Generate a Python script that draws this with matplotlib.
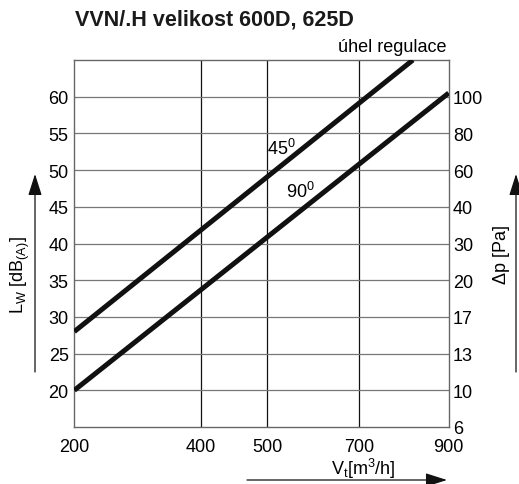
import numpy as np
import matplotlib
matplotlib.use("Agg")
import matplotlib.pyplot as plt
from matplotlib.patches import FancyArrowPatch

plt.rcParams['font.family'] = ['Liberation Sans', 'DejaVu Sans']
plt.rcParams['mathtext.fontset'] = 'custom'
plt.rcParams['mathtext.rm'] = 'Liberation Sans'
plt.rcParams['mathtext.it'] = 'Liberation Sans:italic'

# x axis of the nomogram (not a pure log scale)
v_ticks = [200, 400, 500, 700, 900]
v_pos = [0.0, 0.338, 0.515, 0.761, 1.0]

lw_ticks = [15, 20, 25, 30, 35, 40, 45, 50, 55, 60]
lw_labels = ['', '20', '25', '30', '35', '40', '45', '50', '55', '60']
dp_labels = ['6', '10', '13', '17', '20', '30', '40', '60', '80', '100']

# curves per damper angle
v_45 = [200, 820]
lw_45 = [28, 65]
v_90 = [200, 900]
lw_90 = [20, 60.5]

W, H = 519, 485
FS = 13


def fwd(x):
    return np.interp(x, v_ticks, v_pos)


def inv(p):
    return np.interp(p, v_pos, v_ticks)


fig = plt.figure(figsize=(W / 100, H / 100), dpi=100)
ax = fig.add_axes([74.3 / W, 1 - 428 / H, 374.4 / W, 367 / H])
ax.set_xscale('function', functions=(fwd, inv))
ax.set_xlim(200, 900)
ax.set_ylim(15, 65)

ax.set_xticks(v_ticks)
ax.set_xticklabels([str(v) for v in v_ticks])
ax.set_yticks(lw_ticks)
ax.set_yticklabels(lw_labels)
ax.tick_params(axis='both', length=0, labelsize=FS)
ax.tick_params(axis='x', pad=8)
ax.tick_params(axis='y', pad=4)
ax.xaxis.set_minor_locator(matplotlib.ticker.NullLocator())

for v in v_ticks[1:-1]:
    ax.axvline(v, color='#111111', lw=0.9, zorder=1)
for y in lw_ticks[1:]:
    ax.axhline(y, color='#777777', lw=0.9, zorder=1)
for s in ax.spines.values():
    s.set_color('#666666')
    s.set_linewidth(1.0)

ax.plot(v_45, lw_45, color='#111111', lw=3.6, solid_capstyle='butt', zorder=3)
ax.plot(v_90, lw_90, color='#111111', lw=3.6, solid_capstyle='butt', zorder=3)
ax.text(500, 53.0, r'45$^{\mathrm{0}}$', fontsize=FS, ha='left', va='center')
ax.text(542, 47.2, r'90$^{\mathrm{0}}$', fontsize=FS, ha='left', va='center')

ax2 = ax.twinx()
ax2.set_ylim(15, 65)
ax2.set_yticks(lw_ticks)
ax2.set_yticklabels(dp_labels)
ax2.tick_params(axis='y', length=0, labelsize=FS, pad=3)
for s in ax2.spines.values():
    s.set_visible(False)

fig.text(75 / W, 1 - 20 / H, 'VVN/.H velikost 600D, 625D', fontsize=15.5,
         fontweight='bold', ha='left', va='center', color='#1a1a1a')
fig.text(446 / W, 1 - 47 / H, 'úhel regulace', fontsize=FS,
         ha='right', va='center')

fig.text(20 / W, 1 - 275 / H, r'L$_{\mathrm{W}}$ [dB$_{\mathrm{(A)}}$]', fontsize=FS,
         rotation=90, ha='center', va='center')
fig.text(502 / W, 1 - 255 / H, 'Δp [Pa]', fontsize=FS,
         rotation=90, ha='center', va='center')
fig.text(363 / W, 1 - 469 / H, r'V$_{\mathrm{t}}$[m$^{\mathrm{3}}$/h]', fontsize=FS,
         ha='center', va='center')

arrow = dict(arrowstyle='-|>,head_length=1.1,head_width=0.35', color='#111111',
             lw=0.9, mutation_scale=12, shrinkA=0, shrinkB=0,
             transform=fig.transFigure)
fig.add_artist(FancyArrowPatch((35 / W, 1 - 373 / H), (35 / W, 1 - 175 / H), **arrow))
fig.add_artist(FancyArrowPatch((516 / W, 1 - 373 / H), (516 / W, 1 - 175 / H), **arrow))
fig.add_artist(FancyArrowPatch((247 / W, 1 - 481 / H), (447 / W, 1 - 481 / H), **arrow))

fig.savefig('out.png', dpi=100)
